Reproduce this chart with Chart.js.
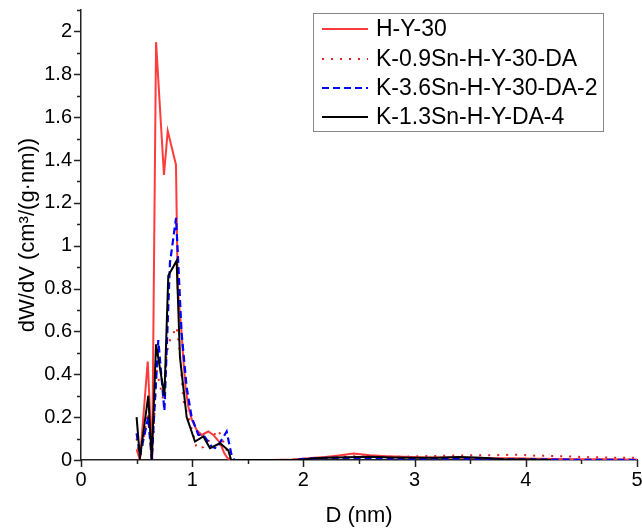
<!DOCTYPE html>
<html>
<head>
<meta charset="utf-8">
<script src="https://cdn.jsdelivr.net/npm/chart.js@4/dist/chart.umd.min.js"></script>
<style>
  html, body { margin: 0; padding: 0; background: #fff; }
  #wrap { width: 642px; height: 530px; position: relative; }
</style>
</head>
<body>
<div id="wrap"><canvas id="c" width="642" height="530"></canvas></div>
<script>
// ---- Data ----
const seriesNames = ["H-Y-30", "K-0.9Sn-H-Y-30-DA", "K-3.6Sn-H-Y-30-DA-2", "K-1.3Sn-H-Y-DA-4"];

const hy30X = [0.50,0.53,0.60,0.64,0.675,0.746,0.78,0.854,0.87,0.905,0.92,0.94,0.965,0.995,1.04,1.085,1.145,1.19,1.25,1.29,1.33,1.5,1.7,1.9,2.0,2.1,2.2,2.3,2.45,2.6,2.75,2.9,3.1,3.3,3.5,3.7,3.9,4.1,4.3,4.5,4.7,4.9,5.0];
const hy30Y = [0.05,0.0,0.46,0.0,1.95,1.33,1.536,1.378,0.80,0.59,0.47,0.34,0.25,0.19,0.14,0.117,0.133,0.117,0.08,0.03,0.0,0.0,0.0,0.002,0.006,0.010,0.014,0.020,0.030,0.022,0.018,0.015,0.012,0.012,0.010,0.008,0.008,0.006,0.005,0.004,0.003,0.002,0.002];

const sn09X = [0.50,0.53,0.60,0.64,0.68,0.74,0.77,0.80,0.86,0.89,0.92,0.965,1.02,1.04,1.10,1.235,1.30,1.34,1.6,1.9,2.1,2.3,2.5,2.7,2.9,3.1,3.3,3.5,3.7,3.9,4.1,4.3,4.5,4.7,4.9,5.0];
const sn09Y = [0.10,0.0,0.22,0.0,0.42,0.28,0.50,0.56,0.62,0.50,0.28,0.20,0.10,0.055,0.06,0.14,0.06,0.0,0.0,0.0,0.008,0.015,0.018,0.016,0.015,0.018,0.020,0.022,0.022,0.025,0.020,0.018,0.014,0.012,0.010,0.010];

const sn36X = [0.50,0.53,0.605,0.636,0.695,0.75,0.80,0.855,0.905,0.95,0.995,1.055,1.10,1.175,1.22,1.31,1.355,1.38,1.6,1.9,2.0,2.2,2.5,2.8,3.0,3.3,3.6,4.0,4.5,5.0];
const sn36Y = [0.125,0.02,0.20,0.0,0.56,0.23,0.92,1.13,0.59,0.34,0.20,0.117,0.117,0.062,0.055,0.133,0.02,0.0,0.0,0.0,0.005,0.010,0.010,0.008,0.006,0.008,0.006,0.003,0.001,0.0];

const sn13X = [0.50,0.53,0.605,0.636,0.675,0.75,0.785,0.86,0.89,0.92,0.95,1.025,1.10,1.16,1.25,1.325,1.35,1.5,1.7,1.9,2.0,2.1,2.2,2.4,2.6,2.8,3.0,3.2,3.4,3.6,3.8,4.0,4.23];
const sn13Y = [0.20,0.01,0.30,0.0,0.54,0.30,0.86,0.93,0.48,0.34,0.20,0.086,0.11,0.055,0.078,0.045,0.0,0.0,0.0,0.0,0.002,0.008,0.010,0.013,0.015,0.012,0.010,0.010,0.014,0.010,0.004,0.002,0.0];

const xTickValues = [0, 1, 2, 3, 4, 5];
const yTickValues = [0, 0.2, 0.4, 0.6, 0.8, 1, 1.2, 1.4, 1.6, 1.8, 2];

// ---- Styles ----
const FONT = "'Liberation Sans', Arial, sans-serif";
const styles = [
  { color: "#ff3b3b", dash: [], width: 2 },
  { color: "#e02020", dash: [2, 7], width: 2 },
  { color: "#0000ff", dash: [7, 4], width: 2.2 },
  { color: "#000000", dash: [], width: 2 }
];
function pts(xs, ys) { return xs.map((x, i) => ({ x: x, y: ys[i] })); }
const allData = [pts(hy30X, hy30Y), pts(sn09X, sn09Y), pts(sn36X, sn36Y), pts(sn13X, sn13Y)];

const datasets = allData.map((d, i) => ({
  label: seriesNames[i],
  data: d,
  showLine: true,
  borderColor: styles[i].color,
  backgroundColor: styles[i].color,
  borderDash: styles[i].dash,
  borderWidth: styles[i].width,
  pointRadius: 0,
  tension: 0,
  fill: false,
  order: [3, 4, 2, 1][i]
}));

const tickPlugin = {
  id: 'ticks',
  afterDraw(chart) {
    const ctx = chart.ctx;
    const xs = chart.scales.x, ys = chart.scales.y;
    const axY = ys.getPixelForValue(0);
    const axX = xs.getPixelForValue(0);
    ctx.save();
    ctx.strokeStyle = '#222';
    ctx.lineWidth = 1.5;
    ctx.beginPath();
    for (let v = 0; v <= 5.0001; v += 0.5) {
      const major = Math.abs(v - Math.round(v)) < 1e-6;
      const px = Math.round(xs.getPixelForValue(v)) + 0.5;
      ctx.moveTo(px, axY);
      ctx.lineTo(px, axY + (major ? 7 : 4));
    }
    for (let k = 0; k <= 21; k++) {
      const v = k / 10;
      const major = k % 2 === 0;
      const py = Math.round(ys.getPixelForValue(v)) + 0.5;
      ctx.moveTo(axX, py);
      ctx.lineTo(axX - (major ? 7 : 4), py);
    }
    ctx.stroke();

    // legend box
    const bx = 313, by = 13, bw = 290, bh = 118;
    ctx.fillStyle = '#fff';
    ctx.fillRect(bx, by, bw, bh);
    ctx.strokeStyle = '#888';
    ctx.lineWidth = 1;
    ctx.setLineDash([]);
    ctx.strokeRect(bx + 0.5, by + 0.5, bw, bh);
    const rowsY = [29, 59, 88, 117];
    ctx.font = "23px " + FONT;
    ctx.textBaseline = 'middle';
    ctx.textAlign = 'left';
    for (let i = 0; i < 4; i++) {
      ctx.beginPath();
      ctx.strokeStyle = styles[i].color;
      ctx.lineWidth = styles[i].width;
      ctx.setLineDash(styles[i].dash);
      ctx.moveTo(322, rowsY[i]);
      ctx.lineTo(368, rowsY[i]);
      ctx.stroke();
      ctx.setLineDash([]);
      ctx.fillStyle = '#000';
      ctx.fillText(seriesNames[i], 376, rowsY[i] + 1);
    }
    ctx.restore();
  }
};

new Chart(document.getElementById('c'), {
  type: 'scatter',
  data: { datasets: datasets },
  options: {
    responsive: false,
    animation: false,
    devicePixelRatio: 1,
    layout: { padding: { top: 10, right: 5, left: 0, bottom: 0 } },
    plugins: { legend: { display: false }, tooltip: { enabled: false } },
    scales: {
      x: {
        type: 'linear', min: 0, max: 5,
        afterBuildTicks: s => { s.ticks = xTickValues.map(v => ({ value: v })); },
        afterFit: s => { s.height = 70; s.paddingLeft = 0; s.paddingRight = 0; },
        grid: { display: false, drawTicks: false },
        border: { display: true, color: '#222', width: 1.5 },
        ticks: { color: '#000', font: { family: FONT, size: 20 }, padding: 8, maxRotation: 0,
                 callback: v => String(v) },
        title: { display: true, text: 'D (nm)', color: '#000', font: { family: FONT, size: 22 }, padding: { bottom: 1 } }
      },
      y: {
        type: 'linear', min: 0, max: 2.1,
        afterBuildTicks: s => { s.ticks = yTickValues.map(v => ({ value: v })); },
        afterFit: s => { s.width = 81; s.paddingTop = 0; s.paddingBottom = 0; },
        grid: { display: false, drawTicks: false },
        border: { display: true, color: '#222', width: 1.5 },
        ticks: { color: '#000', font: { family: FONT, size: 20 }, padding: 9,
                 callback: v => String(Math.round(v * 10) / 10) },
        title: { display: true, text: 'dW/dV (cm³/(g·nm))', color: '#000', font: { family: FONT, size: 22 }, padding: { top: 15 } }
      }
    }
  },
  plugins: [tickPlugin]
});
</script>
</body>
</html>
